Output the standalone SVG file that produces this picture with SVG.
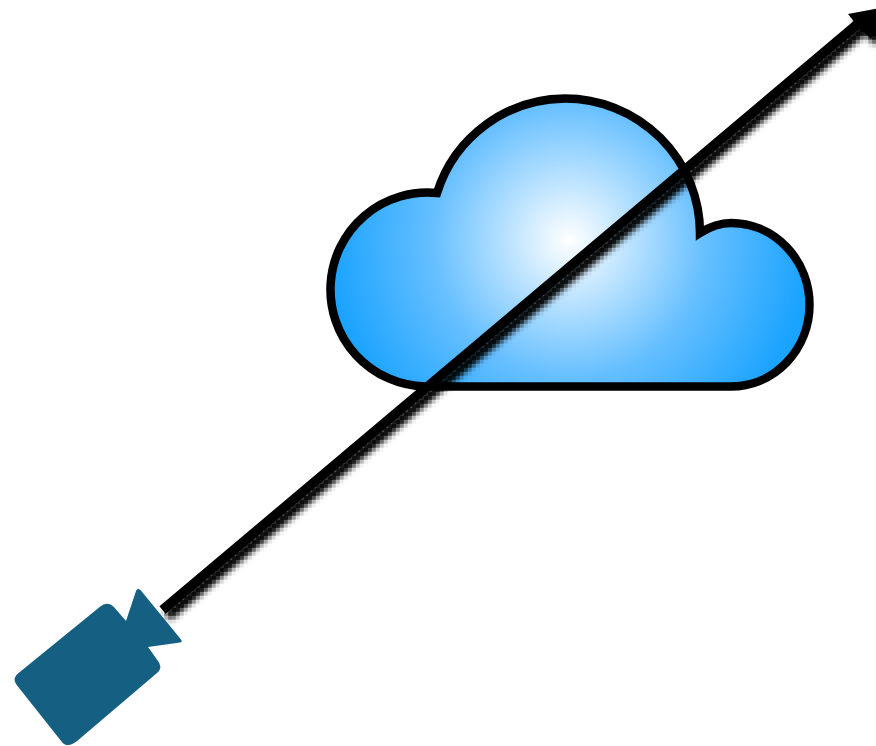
<svg xmlns="http://www.w3.org/2000/svg" width="876" height="746" viewBox="0 0 876 746">
<defs>
<radialGradient id="g" gradientUnits="userSpaceOnUse" cx="569" cy="240" r="240">
<stop offset="0" stop-color="#ffffff"/><stop offset="0.57" stop-color="#66bfff"/><stop offset="1" stop-color="#1aa3ff"/>
</radialGradient>
<filter id="s" filterUnits="userSpaceOnUse" x="0" y="0" width="876" height="746" color-interpolation-filters="sRGB">
<feGaussianBlur in="SourceAlpha" stdDeviation="3"/><feOffset dx="5" dy="6"/><feComponentTransfer result="sh"><feFuncA type="linear" slope="1.1"/></feComponentTransfer>
<feFlood x="1" y="1" width="2" height="2" flood-color="#000"/><feComposite width="4" height="4"/><feTile result="grid"/>
<feComposite in="sh" in2="grid" operator="in"/><feMorphology operator="dilate" radius="1" result="mosaic"/>
<feMerge><feMergeNode in="mosaic"/><feMergeNode in="SourceGraphic"/></feMerge>
</filter>
<style>.c{fill:url(#g);stroke:#000;stroke-width:8.5;stroke-miterlimit:10}.cam{fill:#156082}.l{fill:none;stroke:#000;stroke-width:9.5}</style>
</defs>
<g id="cloud"><path class="c" d="M437,193 A135,135 0 0 1 565,98.5 A135,135 0 0 1 700,233 C711,226 721,223 731,223 A78.5,81.75 0 0 1 731,386.5 L425,386.5 A97,97 0 1 1 437,193 Z"/></g>
<g id="connectors" filter="url(#s)">
<path class="l" d="M162.5,610 L860,22"/>
<path d="M848,14 L886,7 L871,39 L856,24 Z" fill="#000"/>
</g>
<g id="camera"><path class="cam" d="M126,621 L115,608.3 Q107.9,600.3 100,606.7 L18.3,673.3 Q11.7,678.7 16.7,685 L61.7,741.7 Q67.6,749.2 78.3,740 L156.7,673.3 Q163.7,667.4 157.3,660 L148,647 L180,642.5 Q183,642 181,639.5 L140.5,590 Q137.5,587.5 136,591 Z"/></g>
</svg>
